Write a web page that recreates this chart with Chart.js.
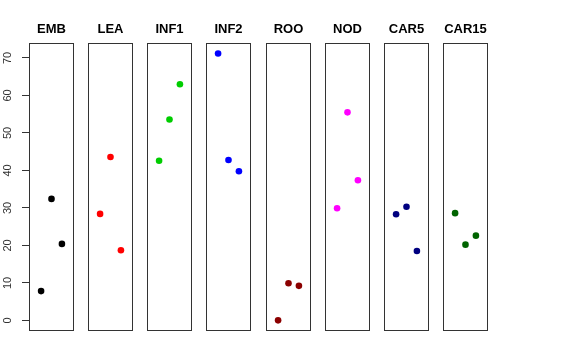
<!DOCTYPE html>
<html>
<head>
<meta charset="utf-8">
<script src="https://cdn.jsdelivr.net/npm/chart.js@4"></script>
<style>
    html, body { margin: 0; padding: 0; background: #fff; }
    #wrap { position: relative; width: 576px; height: 360px; overflow: hidden; }
    #wrap canvas { position: absolute; top: 0; }
</style>
</head>
<body>
<div id="wrap"></div>
<script>
// ============================================
// Strip panels - one small scatter per group
// ============================================

// Data
const panels = ['EMB', 'LEA', 'INF1', 'INF2', 'ROO', 'NOD', 'CAR5', 'CAR15'];
const colors = ['#000000', '#FF0000', '#00CD00', '#0000FF', '#8B0000', '#FF00FF', '#000080', '#006400'];
const xPositions = [1, 2, 3];
const EMB = [7.8, 32.4, 20.4];
const LEA = [28.4, 43.6, 18.7];
const INF1 = [42.6, 53.6, 63.0];
const INF2 = [71.2, 42.8, 39.8];
const ROO = [0.0, 9.9, 9.2];
const NOD = [29.9, 55.5, 37.4];
const CAR5 = [28.3, 30.3, 18.5];
const CAR15 = [28.6, 20.2, 22.6];
const seriesValues = [EMB, LEA, INF1, INF2, ROO, NOD, CAR5, CAR15];
const yTicks = [0, 10, 20, 30, 40, 50, 60, 70];
const yMin = -2.84;
const yMax = 74.0;
const xMin = -0.16;
const xMax = 4.16;

// Layout
const fontFamily = '"Liberation Sans", Arial, Helvetica, sans-serif';
const firstLeft = 29;
const panelStep = 59.14;
const panelWidth = 45;
const axisWidth = 29;
const chartBottom = 331;
const canvasHeight = 360;

// Box round each panel's plot area
const boxPlugin = {
    id: 'panelBox',
    beforeDatasetsDraw(chart) {
        const { ctx, chartArea: a } = chart;
        ctx.save();
        ctx.strokeStyle = '#333';
        ctx.lineWidth = 1;
        ctx.strokeRect(Math.round(a.left) + 0.5, Math.round(a.top) + 0.5,
            Math.round(a.right - a.left) - 1, Math.round(a.bottom - a.top) - 1);
        ctx.restore();
    }
};

const wrap = document.getElementById('wrap');

panels.forEach((name, i) => {
    const first = i === 0;
    const boxLeft = Math.round(firstLeft + i * panelStep);
    const canvas = document.createElement('canvas');
    const cssLeft = first ? 0 : boxLeft - 1;
    const width = first ? axisWidth + panelWidth + 1 : panelWidth + 2;
    canvas.width = width;
    canvas.height = canvasHeight;
    canvas.style.left = cssLeft + 'px';
    canvas.style.width = width + 'px';
    canvas.style.height = canvasHeight + 'px';
    wrap.appendChild(canvas);

    new Chart(canvas, {
        type: 'scatter',
        data: {
            datasets: [{
                label: name,
                data: xPositions.map((x, j) => ({ x: x, y: seriesValues[i][j] })),
                backgroundColor: colors[i],
                borderWidth: 0,
                pointRadius: 3.3,
                pointHoverRadius: 3.3
            }]
        },
        options: {
            responsive: false,
            animation: false,
            devicePixelRatio: 1,
            layout: {
                autoPadding: false,
                padding: { left: first ? 0 : 1, right: 1, top: 0, bottom: canvasHeight - chartBottom }
            },
            plugins: {
                legend: { display: false },
                tooltip: { enabled: false },
                title: {
                    display: true,
                    text: name,
                    fullSize: false,
                    color: '#000',
                    font: { family: fontFamily, size: 13, weight: 'bold', lineHeight: 1.2 },
                    padding: { top: 21.7, bottom: 5.7 }
                }
            },
            scales: {
                x: {
                    type: 'linear',
                    display: false,
                    min: xMin,
                    max: xMax
                },
                y: {
                    type: 'linear',
                    display: first,
                    min: yMin,
                    max: yMax,
                    afterBuildTicks: s => { s.ticks = yTicks.map(v => ({ value: v })); },
                    afterFit: s => { s.width = first ? axisWidth : 0; },
                    grid: {
                        display: true,
                        drawOnChartArea: false,
                        drawTicks: true,
                        tickLength: 7,
                        color: '#333',
                        lineWidth: 1
                    },
                    border: { display: false },
                    ticks: {
                        minRotation: 90,
                        maxRotation: 90,
                        crossAlign: 'center',
                        padding: 8,
                        color: '#333',
                        font: { family: fontFamily, size: 11 }
                    }
                }
            }
        },
        plugins: [boxPlugin]
    });
});
</script>
</body>
</html>
